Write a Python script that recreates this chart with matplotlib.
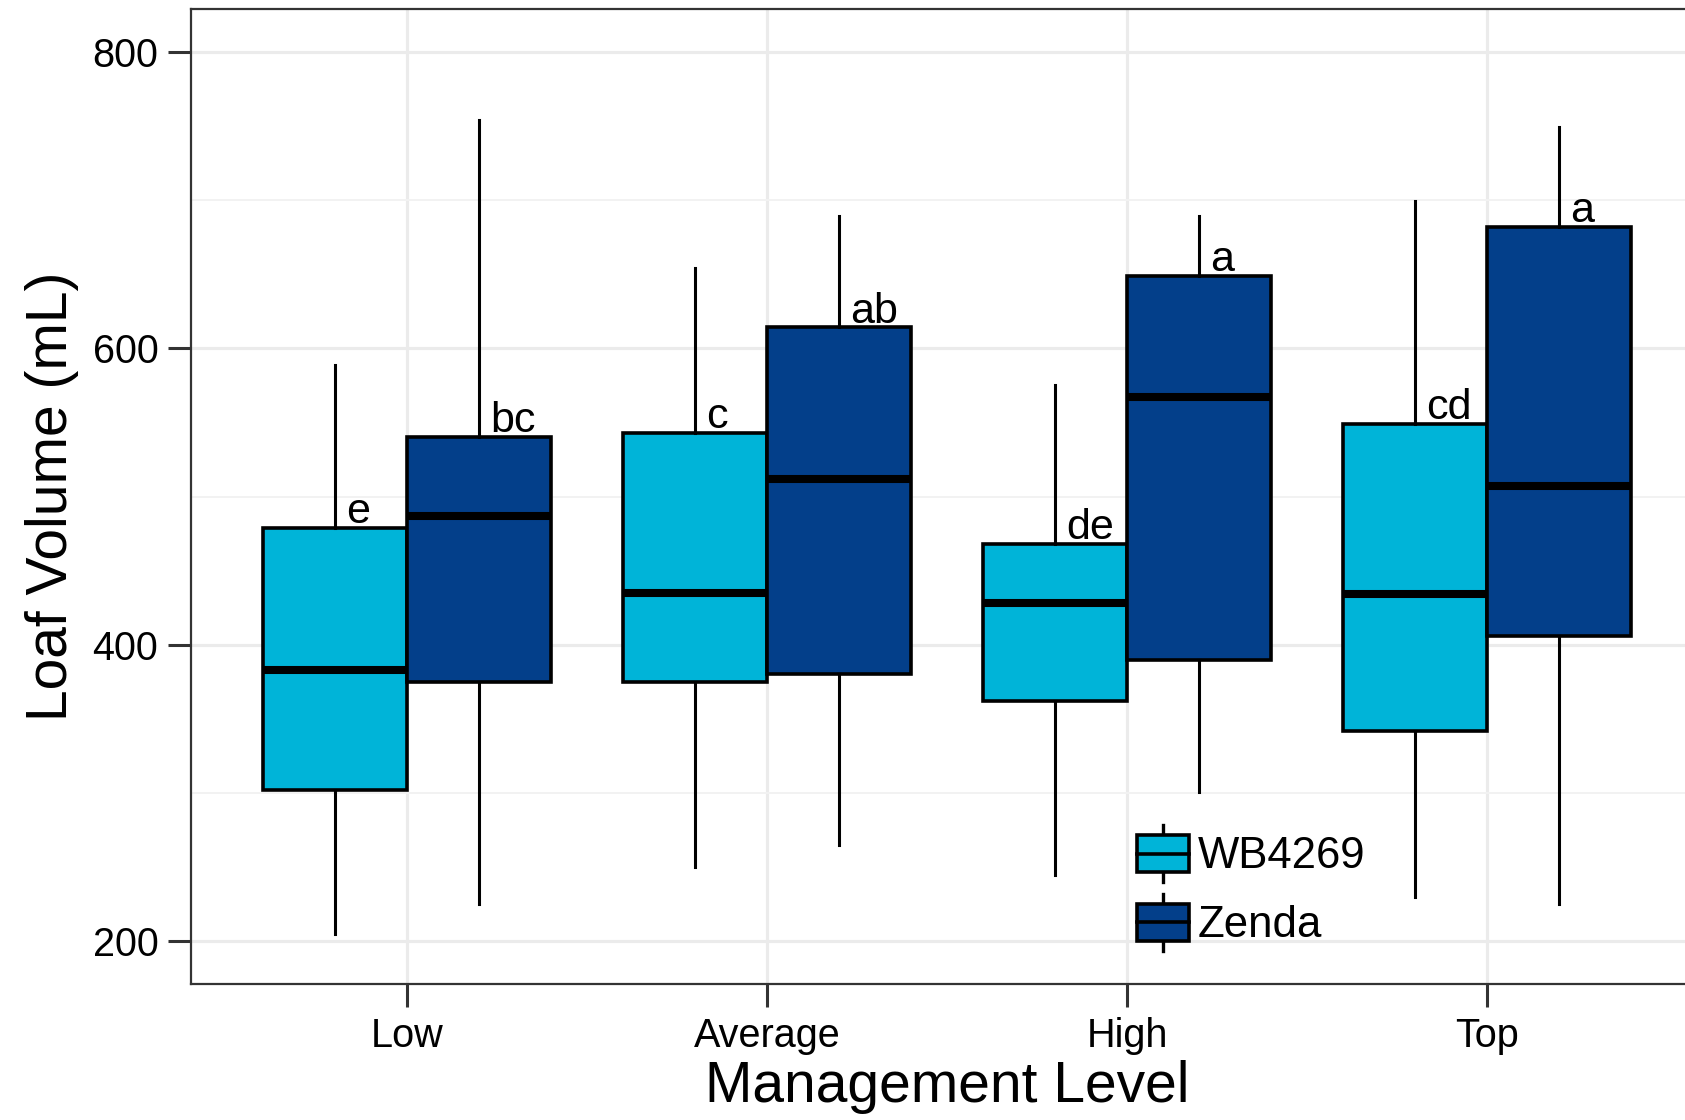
import matplotlib
matplotlib.use("Agg")
import matplotlib.pyplot as plt
from matplotlib.ticker import FixedLocator
from matplotlib.patches import Patch, Rectangle
from matplotlib.lines import Line2D
from matplotlib.legend_handler import HandlerBase

plt.rcParams['font.family'] = ['Liberation Sans', 'DejaVu Sans']

# dane
levels = ['Low', 'Average', 'High', 'Top']
groups = ['WB4269', 'Zenda']

wb_whislo = [205, 250, 245, 230]
wb_q1 = [302, 375, 362, 342]
wb_med = [383, 435, 428, 434]
wb_q3 = [479, 543, 468, 549]
wb_whishi = [589, 654, 575, 699]
wb_letters = ['e', 'c', 'de', 'cd']

ze_whislo = [225, 265, 301, 225]
ze_q1 = [375, 380, 390, 406]
ze_med = [487, 512, 567, 507]
ze_q3 = [540, 614, 649, 682]
ze_whishi = [754, 689, 689, 749]
ze_letters = ['bc', 'ab', 'a', 'a']

kolory = ['#00B4D8', '#033F8A']


def statystyki(whislo, q1, med, q3, whishi):
    return [dict(whislo=a, q1=b, med=c, q3=d, whishi=e, fliers=[])
            for a, b, c, d, e in zip(whislo, q1, med, q3, whishi)]


class HandlerBox(HandlerBase):
    def create_artists(self, legend, orig_handle, xdescent, ydescent,
                       width, height, fontsize, trans):
        x0, y0 = -xdescent, -ydescent
        cx = x0 + width / 2
        bh = height * 0.65
        by = y0 + (height - bh) / 2
        wl = Line2D([cx, cx], [y0, y0 + height], color='black', lw=2.4, transform=trans)
        r = Rectangle((x0, by), width, bh, facecolor=orig_handle.get_facecolor(),
                      edgecolor='black', lw=2.6, transform=trans)
        med = Line2D([x0, x0 + width], [y0 + height / 2] * 2, color='black', lw=2.6, transform=trans)
        return [wl, r, med]


fig = plt.figure(figsize=(16.85, 11.2), dpi=100)
ax = fig.add_axes([191 / 1685, 1 - 984 / 1120, 1 - 191 / 1685, 975 / 1120])

pozycje = range(1, len(levels) + 1)
dane = [
    (statystyki(wb_whislo, wb_q1, wb_med, wb_q3, wb_whishi), wb_q3, wb_letters, -0.2),
    (statystyki(ze_whislo, ze_q1, ze_med, ze_q3, ze_whishi), ze_q3, ze_letters, 0.2),
]

for (st, q3, litery, dx), kol in zip(dane, kolory):
    pos = [p + dx for p in pozycje]
    ax.bxp(st, positions=pos, widths=0.4, patch_artist=True, showcaps=False,
           showfliers=False,
           boxprops=dict(facecolor=kol, edgecolor='black', linewidth=2.6),
           medianprops=dict(color='black', linewidth=5.8, solid_capstyle='butt'),
           whiskerprops=dict(color='black', linewidth=2.2))
    for x, y, t in zip(pos, q3, litery):
        ax.annotate(t, (x, y), xytext=(8, 3.5), textcoords='offset points',
                    ha='left', va='baseline', fontsize=31, color='black')

ax.set_xlim(0.4, 4.55)
ax.set_ylim(171.3, 828.7)
ax.set_xticks(list(pozycje))
ax.set_xticklabels(levels)
ax.set_yticks([200, 400, 600, 800])
ax.yaxis.set_minor_locator(FixedLocator([300, 500, 700]))
ax.tick_params(which='minor', length=0)
ax.tick_params(which='major', direction='out', length=16.5, width=2.2,
               color='#333333', labelsize=28.5, pad=7, labelcolor='black')

ax.grid(which='major', color='#EBEBEB', linewidth=2.3)
ax.grid(which='minor', axis='y', color='#F2F2F2', linewidth=1.4)
ax.set_axisbelow(True)

for s in ['left', 'top', 'bottom']:
    ax.spines[s].set_color('#333333')
    ax.spines[s].set_linewidth(1.6)
ax.spines['right'].set_visible(False)

ax.set_xlabel('Management Level', fontsize=41, labelpad=4)
# panel w oryginale jest uciety z prawej, wiec tytul osi jest przesuniety
ax.xaxis.label.set_x(0.506)
ax.set_ylabel('Loaf Volume (mL)', fontsize=41, labelpad=10)

uchwyty = [Patch(facecolor=k, label=g) for k, g in zip(kolory, groups)]
ax.legend(handles=uchwyty, handler_map={Patch: HandlerBox()}, loc='upper left',
          bbox_to_anchor=(0.633, 0.163), frameon=False, fontsize=31.5,
          handlelength=1.19, handleheight=1.63, labelspacing=0.27,
          handletextpad=0.2, borderpad=0, borderaxespad=0)

plt.savefig("out.png", dpi=100)
